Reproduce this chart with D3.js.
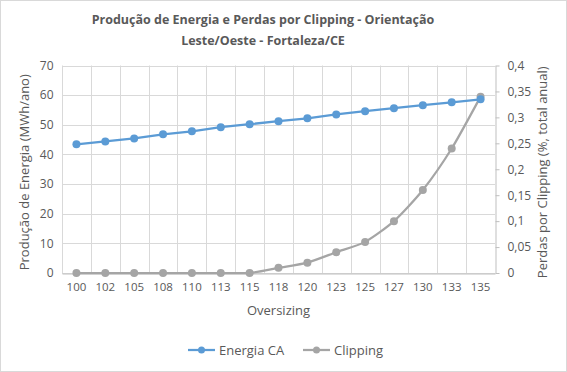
<!DOCTYPE html>
<html>
<head>
<meta charset="utf-8">
<script src="https://cdn.jsdelivr.net/npm/d3@7"></script>
<style>
  body { margin: 0; background: #fff; }
  text { font-family: "Open Sans", sans-serif; fill: #595959; }
</style>
</head>
<body>
<svg width="567" height="372"></svg>
<script>
// oversizing (%) categories
var oversizing = ["100", "102", "105", "108", "110", "113", "115", "118", "120", "123", "125", "127", "130", "133", "135"];
// energia CA (MWh/ano)
var energia = [43.4, 44.4, 45.4, 46.8, 47.8, 49.2, 50.2, 51.2, 52.2, 53.5, 54.6, 55.6, 56.6, 57.6, 58.6];
// perdas por clipping (% total anual)
var clipping = [0, 0, 0, 0, 0, 0, 0, 0.01, 0.02, 0.04, 0.06, 0.10, 0.16, 0.24, 0.34];
var leftTicks = [0, 10, 20, 30, 40, 50, 60, 70];
var rightTicks = [0, 0.05, 0.1, 0.15, 0.2, 0.25, 0.3, 0.35, 0.4];

var svg = d3.select("svg");
var W = 567, H = 372;
var mLeft = 62, mRight = 495, mTop = 65.5, mBottom = 273;

svg.append("rect")
  .attr("x", 0.5).attr("y", 0.5).attr("width", W - 1).attr("height", H - 1)
  .attr("fill", "#fff").attr("stroke", "#d9d9d9");

var x = d3.scaleBand().domain(oversizing).range([mLeft, mRight]);
var y = d3.scaleLinear().domain([0, 70]).range([mBottom, mTop]);
var y2 = d3.scaleLinear().domain([0, 0.4]).range([mBottom, mTop]);

var fmt = d3.format(",.2~f");
function comma(v) { return fmt(v).replace(".", ","); }

// gridlines
var grid = svg.append("g").attr("stroke", "#d9d9d9").attr("stroke-width", 1);
leftTicks.forEach(function(t) {
  grid.append("line").attr("x1", mLeft).attr("x2", mRight)
    .attr("y1", Math.round(y(t)) + 0.5).attr("y2", Math.round(y(t)) + 0.5);
});
oversizing.forEach(function(c) {
  var xx = Math.round(x(c)) + 0.5;
  grid.append("line").attr("x1", xx).attr("x2", xx).attr("y1", mTop).attr("y2", mBottom);
});

// bottom axis
svg.append("g")
  .attr("transform", "translate(0," + (Math.round(mBottom) + 0.5) + ")")
  .call(d3.axisBottom(x).tickSize(0).tickPadding(9))
  .call(function(g) {
    g.select(".domain").attr("stroke", "#bfbfbf");
    g.selectAll("text").attr("font-size", 11.5).style("fill", "#595959");
  });

// left axis labels
svg.append("g")
  .attr("transform", "translate(" + (mLeft + 0.5) + ",0)")
  .call(d3.axisLeft(y).tickValues(leftTicks).tickSize(0).tickPadding(9))
  .call(function(g) {
    g.select(".domain").remove();
    g.selectAll("text").attr("font-size", 12).style("fill", "#595959");
  });

// right axis
svg.append("g")
  .attr("transform", "translate(" + (mRight + 0.5) + ",0)")
  .call(d3.axisRight(y2).tickValues(rightTicks).tickFormat(comma).tickSize(4).tickSizeOuter(0).tickPadding(8))
  .call(function(g) {
    g.select(".domain").attr("stroke", "#bfbfbf");
    g.selectAll(".tick line").attr("stroke", "#bfbfbf");
    g.selectAll("text").attr("font-size", 12).style("fill", "#595959");
  });

var cx = function(d, i) { return x(oversizing[i]) + x.bandwidth() / 2; };

// clipping series (smoothed)
var lineClip = d3.line().x(cx).y(function(d) { return y2(d); }).curve(d3.curveCardinal.tension(0.3));
svg.append("path").datum(clipping)
  .attr("d", lineClip).attr("fill", "none").attr("stroke", "#a5a5a5").attr("stroke-width", 2.25);
svg.selectAll(".pc").data(clipping).enter().append("circle")
  .attr("cx", cx).attr("cy", function(d) { return y2(d); }).attr("r", 4)
  .attr("fill", "#a5a5a5");

// energia series
var lineEn = d3.line().x(cx).y(function(d) { return y(d); });
svg.append("path").datum(energia)
  .attr("d", lineEn).attr("fill", "none").attr("stroke", "#5b9bd5").attr("stroke-width", 2.25);
svg.selectAll(".pe").data(energia).enter().append("circle")
  .attr("cx", cx).attr("cy", function(d) { return y(d); }).attr("r", 4)
  .attr("fill", "#5b9bd5");

// title
svg.append("text").attr("x", 263).attr("y", 24).attr("text-anchor", "middle")
  .attr("font-size", 12.5).attr("font-weight", "bold")
  .text("Produção de Energia e Perdas por Clipping - Orientação");
svg.append("text").attr("x", 263).attr("y", 45).attr("text-anchor", "middle")
  .attr("font-size", 12.5).attr("font-weight", "bold")
  .text("Leste/Oeste - Fortaleza/CE");

// axis titles
svg.append("text").attr("transform", "translate(29," + ((mTop + mBottom) / 2 + 3) + ") rotate(-90)")
  .attr("text-anchor", "middle").attr("font-size", 13)
  .text("Produção de Energia (MWh/ano)");
svg.append("text").attr("transform", "translate(547," + ((mTop + mBottom) / 2 + 3) + ") rotate(-90)")
  .attr("text-anchor", "middle").attr("font-size", 13)
  .text("Perdas por Clipping (%, total anual)");
svg.append("text").attr("x", (mLeft + mRight) / 2).attr("y", 315).attr("text-anchor", "middle")
  .attr("font-size", 13).text("Oversizing");

// legend
var legend = [{ name: "Energia CA", color: "#5b9bd5", x: 188 }, { name: "Clipping", color: "#a5a5a5", x: 303 }];
legend.forEach(function(l) {
  svg.append("line").attr("x1", l.x).attr("x2", l.x + 27).attr("y1", 350).attr("y2", 350)
    .attr("stroke", l.color).attr("stroke-width", 2.25);
  svg.append("circle").attr("cx", l.x + 13.5).attr("cy", 350).attr("r", 3.5).attr("fill", l.color);
  svg.append("text").attr("x", l.x + 31).attr("y", 354.5).attr("font-size", 13).text(l.name);
});
</script>
</body>
</html>
